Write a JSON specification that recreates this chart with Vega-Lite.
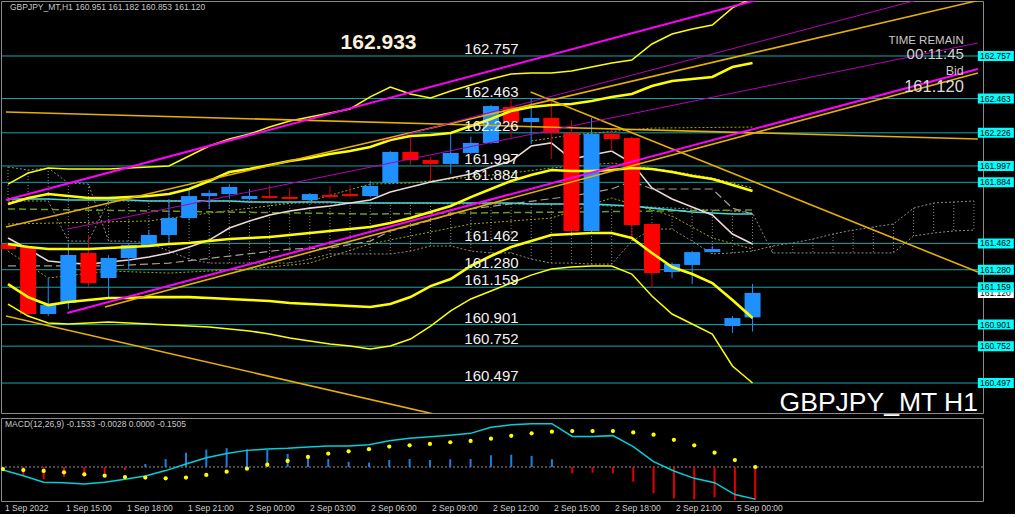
{
"$schema":"https://vega.github.io/schema/vega-lite/v6.json",
"background":"#000000",
"padding":0,
"spacing":5,
"bounds":"flush",
"config":{"view":{"stroke":"#8a8a8a","strokeWidth":1},"axis":{"labelFont":"Liberation Sans","labelFontSize":8.5,"labelColor":"#d0d0d0","tickColor":"#a0a0a0","domainColor":"#8a8a8a","grid":false,"title":null},"text":{"font":"Liberation Sans"}},
"datasets":{
"candles":[
{"i":0,"o":161.458,"h":161.470,"l":161.410,"c":161.423},
{"i":1,"o":161.437,"h":161.450,"l":160.960,"c":160.974},
{"i":2,"o":160.974,"h":161.223,"l":160.960,"c":161.036},
{"i":3,"o":161.050,"h":161.458,"l":161.009,"c":161.382},
{"i":4,"o":161.396,"h":161.520,"l":161.161,"c":161.188},
{"i":5,"o":161.223,"h":161.380,"l":161.085,"c":161.361},
{"i":6,"o":161.361,"h":161.460,"l":161.285,"c":161.451},
{"i":7,"o":161.451,"h":161.550,"l":161.440,"c":161.520},
{"i":8,"o":161.520,"h":161.769,"l":161.458,"c":161.637},
{"i":9,"o":161.637,"h":161.838,"l":161.620,"c":161.789},
{"i":10,"o":161.789,"h":161.830,"l":161.700,"c":161.810},
{"i":11,"o":161.803,"h":161.870,"l":161.770,"c":161.852},
{"i":12,"o":161.769,"h":161.838,"l":161.760,"c":161.789},
{"i":13,"o":161.789,"h":161.866,"l":161.770,"c":161.776},
{"i":14,"o":161.783,"h":161.845,"l":161.760,"c":161.769},
{"i":15,"o":161.762,"h":161.810,"l":161.750,"c":161.803},
{"i":16,"o":161.796,"h":161.859,"l":161.770,"c":161.783},
{"i":17,"o":161.803,"h":161.866,"l":161.780,"c":161.789},
{"i":18,"o":161.789,"h":161.893,"l":161.780,"c":161.859},
{"i":19,"o":161.879,"h":162.100,"l":161.870,"c":162.094},
{"i":20,"o":162.094,"h":162.197,"l":162.004,"c":162.038},
{"i":21,"o":162.038,"h":162.060,"l":161.893,"c":162.011},
{"i":22,"o":162.011,"h":162.218,"l":161.942,"c":162.087},
{"i":23,"o":162.087,"h":162.200,"l":162.080,"c":162.156},
{"i":24,"o":162.156,"h":162.420,"l":162.150,"c":162.411},
{"i":25,"o":162.405,"h":162.474,"l":162.197,"c":162.301},
{"i":26,"o":162.301,"h":162.467,"l":162.149,"c":162.329},
{"i":27,"o":162.329,"h":162.460,"l":162.045,"c":162.225},
{"i":28,"o":162.225,"h":162.315,"l":161.540,"c":161.548},
{"i":29,"o":161.548,"h":162.329,"l":161.540,"c":162.218},
{"i":30,"o":162.218,"h":162.259,"l":162.100,"c":162.183},
{"i":31,"o":162.190,"h":162.200,"l":161.499,"c":161.589},
{"i":32,"o":161.596,"h":161.600,"l":161.154,"c":161.257},
{"i":33,"o":161.264,"h":161.330,"l":161.223,"c":161.320},
{"i":34,"o":161.313,"h":161.410,"l":161.181,"c":161.402},
{"i":35,"o":161.402,"h":161.444,"l":161.400,"c":161.423},
{"i":36,"o":160.891,"h":160.960,"l":160.843,"c":160.946},
{"i":37,"o":160.951,"h":161.182,"l":160.853,"c":161.120}
],
"levels":[{"p":162.757},{"p":162.463},{"p":162.226},{"p":161.997},{"p":161.884},{"p":161.462},{"p":161.280},{"p":161.159},{"p":160.901},{"p":160.752},{"p":160.497}],
"bid":[{"p":161.120}],
"xl":[{"i":0,"t":"1 Sep 2022"},{"i":3,"t":"1 Sep 15:00"},{"i":6,"t":"1 Sep 18:00"},{"i":9,"t":"1 Sep 21:00"},{"i":12,"t":"2 Sep 00:00"},{"i":15,"t":"2 Sep 03:00"},{"i":18,"t":"2 Sep 06:00"},{"i":21,"t":"2 Sep 09:00"},{"i":24,"t":"2 Sep 12:00"},{"i":27,"t":"2 Sep 15:00"},{"i":30,"t":"2 Sep 18:00"},{"i":33,"t":"2 Sep 21:00"},{"i":36,"t":"5 Sep 00:00"}],
"ind":[
{"i":0,"u2":161.872,"u1":161.734,"m":161.458,"l1":161.181,"l2":161.043,"w":161.499,"cy":161.769},
{"i":1,"u2":161.948,"u1":161.776,"m":161.437,"l1":161.091,"l2":160.960,"w":161.423,"cy":161.769},
{"i":2,"u2":161.983,"u1":161.803,"m":161.423,"l1":161.036,"l2":160.912,"w":161.340,"cy":161.769},
{"i":3,"u2":161.976,"u1":161.789,"m":161.423,"l1":161.057,"l2":160.905,"w":161.326,"cy":161.762},
{"i":4,"u2":161.976,"u1":161.776,"m":161.423,"l1":161.071,"l2":160.912,"w":161.319,"cy":161.762},
{"i":5,"u2":161.976,"u1":161.776,"m":161.430,"l1":161.085,"l2":160.919,"w":161.333,"cy":161.762},
{"i":6,"u2":161.983,"u1":161.782,"m":161.437,"l1":161.085,"l2":160.912,"w":161.347,"cy":161.762},
{"i":7,"u2":161.990,"u1":161.789,"m":161.444,"l1":161.091,"l2":160.905,"w":161.368,"cy":161.755},
{"i":8,"u2":161.997,"u1":161.803,"m":161.458,"l1":161.091,"l2":160.898,"w":161.396,"cy":161.755},
{"i":9,"u2":162.066,"u1":161.838,"m":161.465,"l1":161.091,"l2":160.891,"w":161.437,"cy":161.755},
{"i":10,"u2":162.135,"u1":161.893,"m":161.478,"l1":161.085,"l2":160.884,"w":161.485,"cy":161.755},
{"i":11,"u2":162.183,"u1":161.955,"m":161.492,"l1":161.078,"l2":160.870,"w":161.568,"cy":161.755},
{"i":12,"u2":162.218,"u1":161.976,"m":161.499,"l1":161.071,"l2":160.857,"w":161.617,"cy":161.748},
{"i":13,"u2":162.266,"u1":162.004,"m":161.506,"l1":161.064,"l2":160.836,"w":161.658,"cy":161.748},
{"i":14,"u2":162.308,"u1":162.031,"m":161.520,"l1":161.050,"l2":160.808,"w":161.686,"cy":161.748},
{"i":15,"u2":162.335,"u1":162.052,"m":161.534,"l1":161.043,"l2":160.788,"w":161.706,"cy":161.748},
{"i":16,"u2":162.363,"u1":162.080,"m":161.548,"l1":161.036,"l2":160.767,"w":161.720,"cy":161.748},
{"i":17,"u2":162.391,"u1":162.100,"m":161.561,"l1":161.029,"l2":160.753,"w":161.741,"cy":161.741},
{"i":18,"u2":162.474,"u1":162.128,"m":161.575,"l1":161.022,"l2":160.732,"w":161.762,"cy":161.741},
{"i":19,"u2":162.543,"u1":162.176,"m":161.603,"l1":161.043,"l2":160.753,"w":161.817,"cy":161.741},
{"i":20,"u2":162.494,"u1":162.204,"m":161.637,"l1":161.091,"l2":160.801,"w":161.852,"cy":161.741},
{"i":21,"u2":162.467,"u1":162.211,"m":161.679,"l1":161.167,"l2":160.891,"w":161.886,"cy":161.741},
{"i":22,"u2":162.515,"u1":162.225,"m":161.720,"l1":161.216,"l2":160.995,"w":161.914,"cy":161.741},
{"i":23,"u2":162.557,"u1":162.273,"m":161.782,"l1":161.306,"l2":161.078,"w":161.941,"cy":161.741},
{"i":24,"u2":162.598,"u1":162.322,"m":161.838,"l1":161.375,"l2":161.133,"w":161.990,"cy":161.741},
{"i":25,"u2":162.633,"u1":162.377,"m":161.893,"l1":161.437,"l2":161.188,"w":162.031,"cy":161.741},
{"i":26,"u2":162.640,"u1":162.405,"m":161.934,"l1":161.478,"l2":161.243,"w":162.135,"cy":161.734},
{"i":27,"u2":162.640,"u1":162.418,"m":161.969,"l1":161.520,"l2":161.285,"w":162.156,"cy":161.734},
{"i":28,"u2":162.653,"u1":162.425,"m":161.962,"l1":161.527,"l2":161.299,"w":162.045,"cy":161.734},
{"i":29,"u2":162.681,"u1":162.446,"m":161.962,"l1":161.534,"l2":161.306,"w":162.073,"cy":161.734},
{"i":30,"u2":162.709,"u1":162.474,"m":161.969,"l1":161.534,"l2":161.306,"w":162.100,"cy":161.727},
{"i":31,"u2":162.729,"u1":162.494,"m":161.983,"l1":161.499,"l2":161.250,"w":162.017,"cy":161.720},
{"i":32,"u2":162.840,"u1":162.550,"m":161.976,"l1":161.396,"l2":161.098,"w":161.845,"cy":161.706},
{"i":33,"u2":162.909,"u1":162.584,"m":161.955,"l1":161.299,"l2":160.974,"w":161.769,"cy":161.693},
{"i":34,"u2":162.944,"u1":162.598,"m":161.928,"l1":161.250,"l2":160.905,"w":161.713,"cy":161.679},
{"i":35,"u2":162.971,"u1":162.612,"m":161.907,"l1":161.188,"l2":160.836,"w":161.658,"cy":161.672},
{"i":36,"u2":163.089,"u1":162.681,"m":161.865,"l1":161.071,"l2":160.615,"w":161.527,"cy":161.665},
{"i":37,"u2":163.158,"u1":162.709,"m":161.824,"l1":160.946,"l2":160.497,"w":161.458,"cy":161.665}
],
"sp":[
{"s":"G","i":0,"p":161.700},{"s":"G","i":18,"p":161.665},{"s":"G","i":28,"p":161.679},{"s":"G","i":37,"p":161.693},
{"s":"K","i":0,"p":161.306},{"s":"K","i":5,"p":161.306},{"s":"K","i":8,"p":161.326},{"s":"K","i":14,"p":161.423},{"s":"K","i":16,"p":161.430},{"s":"K","i":18,"p":161.478},{"s":"K","i":19,"p":161.548},{"s":"K","i":20,"p":161.582},{"s":"K","i":23,"p":161.700},{"s":"K","i":28,"p":161.789},{"s":"K","i":30,"p":161.838},{"s":"K","i":31,"p":161.893},{"s":"K","i":32,"p":161.838},{"s":"K","i":35,"p":161.838},{"s":"K","i":36,"p":161.706},{"s":"K","i":37,"p":161.665},
{"s":"E1","i":0,"p":161.596},{"s":"E1","i":7,"p":161.617},{"s":"E1","i":10,"p":161.672},{"s":"E1","i":15,"p":161.755},{"s":"E1","i":18,"p":161.872},{"s":"E1","i":20,"p":161.879},{"s":"E1","i":22,"p":161.907},{"s":"E1","i":25,"p":161.948},{"s":"E1","i":27,"p":161.983},{"s":"E1","i":30,"p":162.017},{"s":"E1","i":31,"p":161.997},{"s":"E1","i":33,"p":161.962},{"s":"E1","i":35,"p":161.914},{"s":"E1","i":37,"p":161.845},
{"s":"E2","i":0,"p":161.409},{"s":"E2","i":2,"p":161.223},{"s":"E2","i":5,"p":161.271},{"s":"E2","i":8,"p":161.257},{"s":"E2","i":12,"p":161.285},{"s":"E2","i":15,"p":161.326},{"s":"E2","i":18,"p":161.458},{"s":"E2","i":23,"p":161.596},{"s":"E2","i":27,"p":161.637},{"s":"E2","i":30,"p":161.776},{"s":"E2","i":33,"p":161.651},{"s":"E2","i":35,"p":161.499},{"s":"E2","i":37,"p":161.423},
{"s":"E3","i":26,"p":162.170},{"s":"E3","i":28,"p":162.211},{"s":"E3","i":32,"p":162.259},{"s":"E3","i":37,"p":162.266}
],
"cloud":[
{"i":0,"a":161.990,"b":161.755},{"i":1,"a":161.969,"b":161.755},{"i":2,"a":161.983,"b":161.755},{"i":3,"a":161.879,"b":161.478},{"i":4,"a":161.872,"b":161.478},
{"i":5,"a":161.478,"b":161.755},{"i":6,"a":161.478,"b":161.755},{"i":7,"a":161.465,"b":161.755},{"i":8,"a":161.409,"b":161.755},{"i":9,"a":161.354,"b":161.755},
{"i":10,"a":161.326,"b":161.755},{"i":11,"a":161.326,"b":161.755},{"i":12,"a":161.326,"b":161.755},{"i":13,"a":161.326,"b":161.741},{"i":14,"a":161.326,"b":161.741},
{"i":15,"a":161.354,"b":161.741},{"i":16,"a":161.389,"b":161.741},{"i":17,"a":161.389,"b":161.741},{"i":18,"a":161.389,"b":161.741},{"i":19,"a":161.389,"b":161.741},
{"i":20,"a":161.409,"b":161.741},{"i":21,"a":161.444,"b":161.741},{"i":22,"a":161.444,"b":161.734},{"i":23,"a":161.409,"b":161.734},{"i":24,"a":161.396,"b":161.734},
{"i":25,"a":161.396,"b":161.734},{"i":26,"a":161.354,"b":161.734},{"i":27,"a":161.326,"b":161.734},{"i":28,"a":161.326,"b":161.734},{"i":29,"a":161.319,"b":161.727},
{"i":30,"a":161.319,"b":161.720},{"i":31,"a":161.478,"b":161.720},{"i":32,"a":161.561,"b":161.713},{"i":33,"a":161.561,"b":161.706},{"i":34,"a":161.478,"b":161.700},
{"i":35,"a":161.389,"b":161.693},{"i":36,"a":161.396,"b":161.686},{"i":37,"a":161.409,"b":161.672},{"i":38,"a":161.444,"b":161.396},{"i":39,"a":161.465,"b":161.396},
{"i":40,"a":161.492,"b":161.396},{"i":41,"a":161.527,"b":161.396},{"i":42,"a":161.554,"b":161.396},{"i":43,"a":161.575,"b":161.396},{"i":44,"a":161.596,"b":161.396},
{"i":45,"a":161.706,"b":161.513},{"i":46,"a":161.741,"b":161.534},{"i":47,"a":161.748,"b":161.548},{"i":48,"a":161.755,"b":161.554}
],
"tl":[
{"s":"T1","i":2.95,"p":160.981},{"s":"T1","i":48.2,"p":162.667},
{"s":"T2","i":-0.1,"p":161.762},{"s":"T2","i":48.2,"p":163.551},
{"s":"T3","i":-0.1,"p":161.575},{"s":"T3","i":48.2,"p":163.140},
{"s":"T4","i":4.82,"p":161.022},{"s":"T4","i":48.2,"p":162.640},
{"s":"T5","i":-0.1,"p":160.960},{"s":"T5","i":22.04,"p":160.255},
{"s":"T6","i":25.97,"p":162.508},{"s":"T6","i":48.2,"p":161.264},
{"s":"T7","i":-0.1,"p":162.370},{"s":"T7","i":48.2,"p":162.183},
{"s":"T8","i":18.59,"p":162.170},{"s":"T8","i":48.2,"p":163.254},
{"s":"T9","i":2.95,"p":161.561},{"s":"T9","i":48.2,"p":162.847}
],
"macd":[
{"i":0,"hist":0,"sig":-0.011,"line":-0.016},
{"i":1,"hist":-0.048,"sig":-0.016,"line":-0.046},
{"i":2,"hist":-0.065,"sig":-0.021,"line":-0.081},
{"i":3,"hist":-0.051,"sig":-0.028,"line":-0.083},
{"i":4,"hist":-0.051,"sig":-0.039,"line":-0.090},
{"i":5,"hist":-0.034,"sig":-0.046,"line":-0.081},
{"i":6,"hist":-0.016,"sig":-0.053,"line":-0.065},
{"i":7,"hist":0.016,"sig":-0.056,"line":-0.048},
{"i":8,"hist":0.042,"sig":-0.060,"line":-0.019},
{"i":9,"hist":0.076,"sig":-0.056,"line":0.016},
{"i":10,"hist":0.092,"sig":-0.042,"line":0.049},
{"i":11,"hist":0.100,"sig":-0.025,"line":0.071},
{"i":12,"hist":0.093,"sig":-0.009,"line":0.088},
{"i":13,"hist":0.090,"sig":0.012,"line":0.095},
{"i":14,"hist":0.069,"sig":0.032,"line":0.099},
{"i":15,"hist":0.060,"sig":0.053,"line":0.106},
{"i":16,"hist":0.042,"sig":0.071,"line":0.111},
{"i":17,"hist":0.028,"sig":0.083,"line":0.111},
{"i":18,"hist":0.023,"sig":0.094,"line":0.118},
{"i":19,"hist":0.037,"sig":0.108,"line":0.139},
{"i":20,"hist":0.042,"sig":0.115,"line":0.152},
{"i":21,"hist":0.037,"sig":0.122,"line":0.160},
{"i":22,"hist":0.041,"sig":0.131,"line":0.168},
{"i":23,"hist":0.042,"sig":0.138,"line":0.178},
{"i":24,"hist":0.062,"sig":0.150,"line":0.210},
{"i":25,"hist":0.065,"sig":0.165,"line":0.223},
{"i":26,"hist":0.058,"sig":0.178,"line":0.229},
{"i":27,"hist":0.041,"sig":0.187,"line":0.229},
{"i":28,"hist":-0.034,"sig":0.190,"line":0.162},
{"i":29,"hist":-0.030,"sig":0.190,"line":0.162},
{"i":30,"hist":-0.034,"sig":0.190,"line":0.166},
{"i":31,"hist":-0.078,"sig":0.183,"line":0.108},
{"i":32,"hist":-0.139,"sig":0.171,"line":0.028},
{"i":33,"hist":-0.166,"sig":0.144,"line":-0.021},
{"i":34,"hist":-0.171,"sig":0.115,"line":-0.060},
{"i":35,"hist":-0.160,"sig":0.076,"line":-0.083},
{"i":36,"hist":-0.175,"sig":0.037,"line":-0.146},
{"i":37,"hist":-0.175,"sig":0.000,"line":-0.170}
]
},
"vconcat":[
{
"width":982,"height":412,
"layer":[
{"data":{"name":"cloud"},"mark":{"type":"rule","color":"#8c8c8c","strokeDash":[1,2],"strokeWidth":1,"clip":true},
 "encoding":{"x":{"field":"i","type":"quantitative","scale":{"domain":[-0.0984,48.204],"nice":false,"zero":false},"axis":null},
 "y":{"field":"a","type":"quantitative","scale":{"domain":[160.290,163.137],"nice":false,"zero":false},"axis":null},"y2":{"field":"b"}}},
{"data":{"name":"cloud"},"mark":{"type":"line","color":"#8c8c8c","strokeDash":[2,2],"strokeWidth":1,"clip":true},
 "encoding":{"x":{"field":"i","type":"quantitative","scale":{"domain":[-0.0984,48.204],"nice":false,"zero":false},"axis":null},
 "y":{"field":"a","type":"quantitative","scale":{"domain":[160.290,163.137],"nice":false,"zero":false},"axis":null}}},
{"data":{"name":"cloud"},"mark":{"type":"line","color":"#8c8c8c","strokeDash":[2,2],"strokeWidth":1,"clip":true},
 "encoding":{"x":{"field":"i","type":"quantitative","scale":{"domain":[-0.0984,48.204],"nice":false,"zero":false},"axis":null},
 "y":{"field":"b","type":"quantitative","scale":{"domain":[160.290,163.137],"nice":false,"zero":false},"axis":null}}},
{"data":{"name":"levels"},"mark":{"type":"rule","color":"#17a5a8","strokeWidth":1},
 "encoding":{"y":{"field":"p","type":"quantitative","scale":{"domain":[160.290,163.137],"nice":false,"zero":false},
 "axis":{"orient":"right","values":[162.92,162.705,162.49,162.275,162.06,161.845,161.63,161.415,161.2,160.985,160.77,160.555,160.34],"format":".3f","tickSize":3,"labelPadding":1,"labelAlign":"left","labelBaseline":"middle","labelFlush":false,"labelOverlap":false,"labelBound":false,"domain":true}}}},
{"data":{"name":"sp"},"transform":[{"filter":"datum.s=='E1'||datum.s=='E2'||datum.s=='E3'"}],"mark":{"type":"line","color":"#a8a800","strokeDash":[2,2],"strokeWidth":1,"clip":true},
 "encoding":{"x":{"field":"i","type":"quantitative","scale":{"domain":[-0.0984,48.204],"nice":false,"zero":false},"axis":null},
 "y":{"field":"p","type":"quantitative","scale":{"domain":[160.290,163.137],"nice":false,"zero":false},"axis":null},"detail":{"field":"s"}}},
{"data":{"name":"sp"},"transform":[{"filter":"datum.s=='G'"}],"mark":{"type":"line","color":"#6b9a23","strokeDash":[7,4],"strokeWidth":1.5,"clip":true},
 "encoding":{"x":{"field":"i","type":"quantitative","scale":{"domain":[-0.0984,48.204],"nice":false,"zero":false},"axis":null},
 "y":{"field":"p","type":"quantitative","scale":{"domain":[160.290,163.137],"nice":false,"zero":false},"axis":null}}},
{"data":{"name":"sp"},"transform":[{"filter":"datum.s=='K'"}],"mark":{"type":"line","color":"#a89f91","strokeDash":[8,4],"strokeWidth":1.2,"clip":true},
 "encoding":{"x":{"field":"i","type":"quantitative","scale":{"domain":[-0.0984,48.204],"nice":false,"zero":false},"axis":null},
 "y":{"field":"p","type":"quantitative","scale":{"domain":[160.290,163.137],"nice":false,"zero":false},"axis":null}}},
{"data":{"name":"ind"},"mark":{"type":"line","color":"#48d8d8","strokeWidth":1.6,"clip":true},
 "encoding":{"x":{"field":"i","type":"quantitative","scale":{"domain":[-0.0984,48.204],"nice":false,"zero":false},"axis":null},
 "y":{"field":"cy","type":"quantitative","scale":{"domain":[160.290,163.137],"nice":false,"zero":false},"axis":null}}},
{"data":{"name":"ind"},"mark":{"type":"line","color":"#ecd8d4","strokeWidth":1.6,"clip":true},
 "encoding":{"x":{"field":"i","type":"quantitative","scale":{"domain":[-0.0984,48.204],"nice":false,"zero":false},"axis":null},
 "y":{"field":"w","type":"quantitative","scale":{"domain":[160.290,163.137],"nice":false,"zero":false},"axis":null}}},
{"data":{"name":"candles"},"mark":{"type":"rule","strokeWidth":1,"clip":true},
 "encoding":{"x":{"field":"i","type":"quantitative","scale":{"domain":[-0.0984,48.204],"nice":false,"zero":false},"axis":null},
 "y":{"field":"l","type":"quantitative","scale":{"domain":[160.290,163.137],"nice":false,"zero":false},"axis":null},"y2":{"field":"h"},
 "color":{"condition":{"test":"datum.c>=datum.o","value":"#1e90ff"},"value":"#d00000"}}},
{"data":{"name":"candles"},"mark":{"type":"bar","width":16,"clip":true},
 "encoding":{"x":{"field":"i","type":"quantitative","scale":{"domain":[-0.0984,48.204],"nice":false,"zero":false},"axis":null},
 "y":{"field":"o","type":"quantitative","scale":{"domain":[160.290,163.137],"nice":false,"zero":false},"axis":null},"y2":{"field":"c"},
 "color":{"condition":{"test":"datum.c>=datum.o","value":"#1e90ff"},"value":"#ff0000"}}},
{"data":{"name":"ind"},"mark":{"type":"line","color":"#ffff00","strokeWidth":1.5,"clip":true},
 "encoding":{"x":{"field":"i","type":"quantitative","scale":{"domain":[-0.0984,48.204],"nice":false,"zero":false},"axis":null},
 "y":{"field":"u2","type":"quantitative","scale":{"domain":[160.290,163.137],"nice":false,"zero":false},"axis":null}}},
{"data":{"name":"ind"},"mark":{"type":"line","color":"#ffff00","strokeWidth":1.5,"clip":true},
 "encoding":{"x":{"field":"i","type":"quantitative","scale":{"domain":[-0.0984,48.204],"nice":false,"zero":false},"axis":null},
 "y":{"field":"l2","type":"quantitative","scale":{"domain":[160.290,163.137],"nice":false,"zero":false},"axis":null}}},
{"data":{"name":"ind"},"mark":{"type":"line","color":"#ffff00","strokeWidth":2.6,"clip":true},
 "encoding":{"x":{"field":"i","type":"quantitative","scale":{"domain":[-0.0984,48.204],"nice":false,"zero":false},"axis":null},
 "y":{"field":"u1","type":"quantitative","scale":{"domain":[160.290,163.137],"nice":false,"zero":false},"axis":null}}},
{"data":{"name":"ind"},"mark":{"type":"line","color":"#ffff00","strokeWidth":2.6,"clip":true},
 "encoding":{"x":{"field":"i","type":"quantitative","scale":{"domain":[-0.0984,48.204],"nice":false,"zero":false},"axis":null},
 "y":{"field":"m","type":"quantitative","scale":{"domain":[160.290,163.137],"nice":false,"zero":false},"axis":null}}},
{"data":{"name":"ind"},"mark":{"type":"line","color":"#ffff00","strokeWidth":2.6,"clip":true},
 "encoding":{"x":{"field":"i","type":"quantitative","scale":{"domain":[-0.0984,48.204],"nice":false,"zero":false},"axis":null},
 "y":{"field":"l1","type":"quantitative","scale":{"domain":[160.290,163.137],"nice":false,"zero":false},"axis":null}}},
{"data":{"name":"tl"},"transform":[{"filter":"datum.s=='T3'||datum.s=='T4'||datum.s=='T5'||datum.s=='T6'||datum.s=='T7'"}],"mark":{"type":"line","color":"#e6b000","strokeWidth":1.6,"clip":true},
 "encoding":{"x":{"field":"i","type":"quantitative","scale":{"domain":[-0.0984,48.204],"nice":false,"zero":false},"axis":null},
 "y":{"field":"p","type":"quantitative","scale":{"domain":[160.290,163.137],"nice":false,"zero":false},"axis":null},"detail":{"field":"s"}}},
{"data":{"name":"tl"},"transform":[{"filter":"datum.s=='T8'||datum.s=='T9'"}],"mark":{"type":"line","color":"#b400b4","strokeWidth":1,"clip":true},
 "encoding":{"x":{"field":"i","type":"quantitative","scale":{"domain":[-0.0984,48.204],"nice":false,"zero":false},"axis":null},
 "y":{"field":"p","type":"quantitative","scale":{"domain":[160.290,163.137],"nice":false,"zero":false},"axis":null},"detail":{"field":"s"}}},
{"data":{"name":"tl"},"transform":[{"filter":"datum.s=='T1'||datum.s=='T2'"}],"mark":{"type":"line","color":"#ff00ff","strokeWidth":2,"clip":true},
 "encoding":{"x":{"field":"i","type":"quantitative","scale":{"domain":[-0.0984,48.204],"nice":false,"zero":false},"axis":null},
 "y":{"field":"p","type":"quantitative","scale":{"domain":[160.290,163.137],"nice":false,"zero":false},"axis":null},"detail":{"field":"s"}}},
{"data":{"name":"levels"},"mark":{"type":"text","align":"left","baseline":"alphabetic","dy":-2,"fontSize":15,"color":"#f2f2f2"},
 "encoding":{"x":{"datum":22.68,"type":"quantitative","scale":{"domain":[-0.0984,48.204],"nice":false,"zero":false},"axis":null},
 "y":{"field":"p","type":"quantitative","scale":{"domain":[160.290,163.137],"nice":false,"zero":false},"axis":null},"text":{"field":"p","format":".3f"}}},
{"data":{"name":"bid"},"mark":{"type":"tick","orient":"horizontal","thickness":10,"color":"#ffffff","opacity":1},
 "encoding":{"x":{"datum":49.09,"type":"quantitative","scale":{"domain":[-0.0984,48.204],"nice":false,"zero":false},"axis":null},
 "y":{"field":"p","type":"quantitative","scale":{"domain":[160.290,163.137],"nice":false,"zero":false},"axis":null},"size":{"value":36}}},
{"data":{"name":"bid"},"mark":{"type":"text","align":"left","baseline":"middle","fontSize":8.5,"color":"#000000"},
 "encoding":{"x":{"datum":48.3,"type":"quantitative","scale":{"domain":[-0.0984,48.204],"nice":false,"zero":false},"axis":null},
 "y":{"field":"p","type":"quantitative","scale":{"domain":[160.290,163.137],"nice":false,"zero":false},"axis":null},"text":{"field":"p","format":".3f"}}},
{"data":{"name":"levels"},"mark":{"type":"tick","orient":"horizontal","thickness":10,"color":"#00ffff","opacity":1},
 "encoding":{"x":{"datum":49.09,"type":"quantitative","scale":{"domain":[-0.0984,48.204],"nice":false,"zero":false},"axis":null},
 "y":{"field":"p","type":"quantitative","scale":{"domain":[160.290,163.137],"nice":false,"zero":false},"axis":null},"size":{"value":36}}},
{"data":{"name":"levels"},"mark":{"type":"text","align":"left","baseline":"middle","fontSize":8.5,"color":"#000000"},
 "encoding":{"x":{"datum":48.3,"type":"quantitative","scale":{"domain":[-0.0984,48.204],"nice":false,"zero":false},"axis":null},
 "y":{"field":"p","type":"quantitative","scale":{"domain":[160.290,163.137],"nice":false,"zero":false},"axis":null},"text":{"field":"p","format":".3f"}}},
{"data":{"values":[{}]},"mark":{"type":"text","align":"left","baseline":"top","fontSize":8.5,"color":"#c8c8c8"},
 "encoding":{"x":{"datum":0.1,"type":"quantitative","scale":{"domain":[-0.0984,48.204],"nice":false,"zero":false},"axis":null},
 "y":{"datum":163.123,"type":"quantitative","scale":{"domain":[160.290,163.137],"nice":false,"zero":false},"axis":null},"text":{"value":"GBPJPY_MT,H1  160.951 161.182 160.853 161.120"}}},
{"data":{"values":[{}]},"mark":{"type":"text","align":"left","baseline":"alphabetic","fontSize":21,"fontWeight":"bold","color":"#fff0dc"},
 "encoding":{"x":{"datum":16.53,"type":"quantitative","scale":{"domain":[-0.0984,48.204],"nice":false,"zero":false},"axis":null},
 "y":{"datum":162.805,"type":"quantitative","scale":{"domain":[160.290,163.137],"nice":false,"zero":false},"axis":null},"text":{"value":"162.933"}}},
{"data":{"values":[{}]},"mark":{"type":"text","align":"right","baseline":"alphabetic","fontSize":11.5,"color":"#c8c8c8"},
 "encoding":{"x":{"datum":47.5,"type":"quantitative","scale":{"domain":[-0.0984,48.204],"nice":false,"zero":false},"axis":null},
 "y":{"datum":162.840,"type":"quantitative","scale":{"domain":[160.290,163.137],"nice":false,"zero":false},"axis":null},"text":{"value":"TIME REMAIN"}}},
{"data":{"values":[{}]},"mark":{"type":"text","align":"right","baseline":"alphabetic","fontSize":15,"color":"#d0d0d0"},
 "encoding":{"x":{"datum":47.5,"type":"quantitative","scale":{"domain":[-0.0984,48.204],"nice":false,"zero":false},"axis":null},
 "y":{"datum":162.736,"type":"quantitative","scale":{"domain":[160.290,163.137],"nice":false,"zero":false},"axis":null},"text":{"value":"00:11:45"}}},
{"data":{"values":[{}]},"mark":{"type":"text","align":"right","baseline":"alphabetic","fontSize":12.5,"color":"#c8c8c8"},
 "encoding":{"x":{"datum":47.5,"type":"quantitative","scale":{"domain":[-0.0984,48.204],"nice":false,"zero":false},"axis":null},
 "y":{"datum":162.626,"type":"quantitative","scale":{"domain":[160.290,163.137],"nice":false,"zero":false},"axis":null},"text":{"value":"Bid"}}},
{"data":{"values":[{}]},"mark":{"type":"text","align":"right","baseline":"alphabetic","fontSize":16.5,"color":"#dcdcdc"},
 "encoding":{"x":{"datum":47.5,"type":"quantitative","scale":{"domain":[-0.0984,48.204],"nice":false,"zero":false},"axis":null},
 "y":{"datum":162.510,"type":"quantitative","scale":{"domain":[160.290,163.137],"nice":false,"zero":false},"axis":null},"text":{"value":"161.120"}}},
{"data":{"values":[{}]},"mark":{"type":"text","align":"right","baseline":"alphabetic","fontSize":26.5,"color":"#ffffff"},
 "encoding":{"x":{"datum":48.2,"type":"quantitative","scale":{"domain":[-0.0984,48.204],"nice":false,"zero":false},"axis":null},
 "y":{"datum":160.305,"type":"quantitative","scale":{"domain":[160.290,163.137],"nice":false,"zero":false},"axis":null},"text":{"value":"GBPJPY_MT H1"}}}
]
},
{
"width":982,"height":83,
"layer":[
{"data":{"values":[{}]},"mark":{"type":"rule","color":"#909090","strokeDash":[2,2],"strokeWidth":1},
 "encoding":{"y":{"datum":0,"type":"quantitative","scale":{"domain":[-0.1799,0.2593],"nice":false,"zero":false},"axis":null}}},
{"data":{"name":"macd"},"mark":{"type":"rule","strokeWidth":2},
 "encoding":{"x":{"field":"i","type":"quantitative","scale":{"domain":[-0.0984,48.204],"nice":false,"zero":false},
   "axis":{"orient":"bottom","values":[0,3,6,9,12,15,18,21,24,27,30,33,36],"labels":false,"tickSize":3,"domain":false}},
 "y":{"field":"hist","type":"quantitative","scale":{"domain":[-0.1799,0.2593],"nice":false,"zero":false},
   "axis":{"orient":"right","values":[0.2183,0,-0.1735],"labelExpr":"datum.value==0?'0.00':format(datum.value,'.4f')","tickSize":3,"labelPadding":1,"labelAlign":"left","labelBaseline":"middle","labelFlush":false,"labelOverlap":false,"labelBound":false,"domain":true}},
 "y2":{"datum":0},
 "color":{"condition":{"test":"datum.hist>=0","value":"#1e7fe0"},"value":"#e00000"}}},
{"data":{"name":"macd"},"mark":{"type":"line","color":"#00d0d8","strokeWidth":1.5,"clip":true},
 "encoding":{"x":{"field":"i","type":"quantitative","scale":{"domain":[-0.0984,48.204],"nice":false,"zero":false},"axis":null},
 "y":{"field":"line","type":"quantitative","scale":{"domain":[-0.1799,0.2593],"nice":false,"zero":false},"axis":null}}},
{"data":{"name":"macd"},"mark":{"type":"circle","color":"#ffff00","opacity":1,"size":18},
 "encoding":{"x":{"field":"i","type":"quantitative","scale":{"domain":[-0.0984,48.204],"nice":false,"zero":false},"axis":null},
 "y":{"field":"sig","type":"quantitative","scale":{"domain":[-0.1799,0.2593],"nice":false,"zero":false},"axis":null}}},
{"data":{"name":"xl"},"mark":{"type":"text","align":"left","baseline":"top","dx":2,"fontSize":8.5,"color":"#d0d0d0"},
 "encoding":{"x":{"field":"i","type":"quantitative","scale":{"domain":[-0.0984,48.204],"nice":false,"zero":false},"axis":null},
 "y":{"datum":-0.1975,"type":"quantitative","scale":{"domain":[-0.1799,0.2593],"nice":false,"zero":false},"axis":null},"text":{"field":"t"}}},
{"data":{"values":[{}]},"mark":{"type":"text","align":"left","baseline":"top","fontSize":8.5,"color":"#c8c8c8"},
 "encoding":{"x":{"datum":0.1,"type":"quantitative","scale":{"domain":[-0.0984,48.204],"nice":false,"zero":false},"axis":null},
 "y":{"datum":0.2487,"type":"quantitative","scale":{"domain":[-0.1799,0.2593],"nice":false,"zero":false},"axis":null},"text":{"value":"MACD(12,26,9) -0.1533 -0.0028 0.0000 -0.1505"}}}
]
}
]
}
